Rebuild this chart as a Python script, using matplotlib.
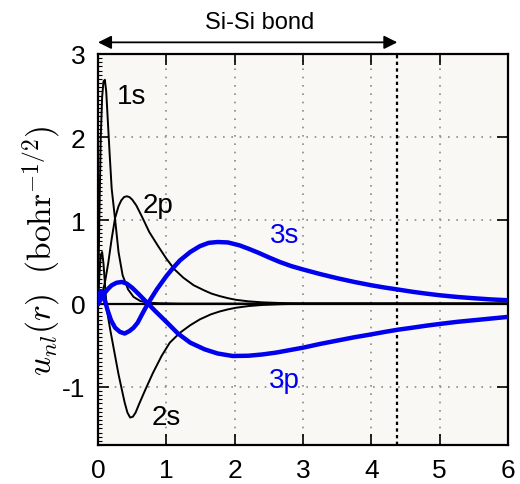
import matplotlib
matplotlib.use("Agg")
import matplotlib.pyplot as plt
from matplotlib.ticker import MultipleLocator

plt.rcParams['font.family'] = ['Liberation Sans', 'DejaVu Sans']
plt.rcParams['mathtext.fontset'] = 'cm'
plt.rcParams['axes.unicode_minus'] = False

# radial functions u_nl(r) read along r (bohr)
r_1s = [0, 0.02, 0.04, 0.06, 0.08, 0.10, 0.12, 0.14, 0.17, 0.20, 0.25, 0.30,
        0.36, 0.44, 0.52, 0.62, 0.75, 0.9, 1.2, 6.0]
u_1s = [0, 1.05, 2.0, 2.48, 2.67, 2.69, 2.55, 2.25, 1.80, 1.38, 1.01, 0.62,
        0.34, 0.17, 0.08, 0.03, 0.01, 0.004, 0, 0]

r_2s = [0, 0.02, 0.04, 0.06, 0.08, 0.10, 0.13, 0.18, 0.25, 0.30, 0.35, 0.39,
        0.43, 0.47, 0.51, 0.55, 0.60, 0.69, 0.80, 0.93, 1.05, 1.2, 1.35, 1.49,
        1.65, 1.78, 1.9, 2.02, 2.2, 2.4, 2.7, 3.0, 6.0]
u_2s = [0, 0.35, 0.58, 0.62, 0.48, 0.25, -0.08, -0.32, -0.63, -0.85, -1.04, -1.19,
        -1.31, -1.37, -1.36, -1.31, -1.21, -1.04, -0.84, -0.63, -0.47, -0.35, -0.26, -0.19,
        -0.13, -0.095, -0.07, -0.05, -0.03, -0.017, -0.007, -0.002, 0]

r_2p = [0, 0.05, 0.10, 0.15, 0.20, 0.25, 0.30, 0.34, 0.38, 0.42, 0.46, 0.50,
        0.56, 0.64, 0.75, 0.88, 1.0, 1.12, 1.25, 1.4, 1.55, 1.66, 1.78, 1.9,
        2.02, 2.2, 2.4, 2.7, 3.0, 6.0]
u_2p = [0, 0.08, 0.25, 0.49, 0.78, 1.03, 1.17, 1.24, 1.28, 1.29, 1.28, 1.25,
        1.18, 1.05, 0.86, 0.69, 0.54, 0.41, 0.31, 0.22, 0.16, 0.12, 0.09, 0.065,
        0.045, 0.027, 0.015, 0.006, 0.002, 0]

r_3s = [0, 0.02, 0.04, 0.07, 0.10, 0.14, 0.19, 0.25, 0.32, 0.39, 0.46, 0.52,
        0.58, 0.65, 0.73, 0.86, 1.0, 1.1, 1.2, 1.35, 1.49, 1.62, 1.75, 1.9,
        2.07, 2.2, 2.35, 2.5, 2.66, 2.83, 3.0, 3.25, 3.5, 3.75, 4.0, 4.2,
        4.38, 4.6, 4.8, 5.0, 5.25, 5.5, 5.75, 6.0]
u_3s = [0, 0.1, 0.15, 0.12, 0.04, -0.08, -0.2, -0.29, -0.34, -0.36, -0.33, -0.29,
        -0.23, -0.12, 0.0, 0.17, 0.33, 0.43, 0.52, 0.62, 0.69, 0.73, 0.74, 0.735,
        0.70, 0.66, 0.61, 0.555, 0.50, 0.45, 0.41, 0.355, 0.305, 0.26, 0.22, 0.192,
        0.17, 0.142, 0.12, 0.10, 0.08, 0.064, 0.05, 0.04]

r_3p = [0, 0.05, 0.10, 0.15, 0.20, 0.27, 0.35, 0.42, 0.50, 0.60, 0.73, 0.85,
        1.0, 1.17, 1.35, 1.56, 1.75, 1.97, 2.2, 2.4, 2.6, 2.8, 3.0, 3.25,
        3.5, 3.75, 4.0, 4.2, 4.38, 4.6, 4.8, 5.0, 5.25, 5.5, 5.75, 6.0]
u_3p = [0, 0.06, 0.13, 0.18, 0.22, 0.25, 0.26, 0.24, 0.19, 0.11, 0.0, -0.1,
        -0.22, -0.36, -0.47, -0.55, -0.60, -0.63, -0.627, -0.612, -0.59, -0.56, -0.53, -0.485,
        -0.445, -0.405, -0.37, -0.34, -0.315, -0.29, -0.266, -0.245, -0.22, -0.20, -0.18, -0.16]

bond_length = 4.38
x_ticks = [0, 1, 2, 3, 4, 5, 6]
y_ticks = [-1, 0, 1, 2, 3]

fig = plt.figure(figsize=(5.2, 4.85), dpi=100)
ax = fig.add_axes([0.1885, 0.0804, 0.7885, 0.8062])
ax.set_facecolor('#faf8f5')

ax.set_xlim(0, 6)
ax.set_ylim(-1.7, 3.0)
ax.set_xticks(x_ticks)
ax.set_yticks(y_ticks)
ax.yaxis.set_minor_locator(MultipleLocator(0.05))
ax.tick_params(which='major', direction='in', length=8, width=1.2,
               top=True, right=True, labelsize=19, pad=9)
ax.tick_params(which='minor', direction='in', length=3, width=0.8, left=True, right=False)
for s in ax.spines.values():
    s.set_linewidth(1.6)

ax.grid(True, which='major', color='#8a8a8a', linestyle=(0, (1, 4)), linewidth=1.2)

ax.axhline(0, color='black', linewidth=1.6, zorder=2)
ax.axvline(bond_length, color='black', linestyle=(0, (1.5, 1.5)), linewidth=1.6, zorder=2)

# core and valence orbitals
ax.plot(r_1s, u_1s, color='black', linewidth=1.4, zorder=3)
ax.plot(r_2s, u_2s, color='black', linewidth=1.4, zorder=3)
ax.plot(r_2p, u_2p, color='black', linewidth=1.4, zorder=3)
ax.plot(r_3s, u_3s, color='#0000ee', linewidth=3.2, zorder=4)
ax.plot(r_3p, u_3p, color='#0000ee', linewidth=3.2, zorder=4)

ax.text(0.49, 2.50, '1s', fontsize=20, ha='center', va='center')
ax.text(0.88, 1.19, '2p', fontsize=20, ha='center', va='center')
ax.text(1.0, -1.36, '2s', fontsize=20, ha='center', va='center')
ax.text(2.73, 0.83, '3s', fontsize=20, ha='center', va='center', color='#0000ee')
ax.text(2.73, -0.92, '3p', fontsize=20, ha='center', va='center', color='#0000ee')

# bond length arrow above the axes
ax.annotate('', xy=(0, 3.14), xytext=(bond_length, 3.14), annotation_clip=False,
            arrowprops=dict(arrowstyle='<|-|>', color='black', lw=1.3,
                            mutation_scale=20, shrinkA=0, shrinkB=0))
ax.text(2.36, 3.39, 'Si-Si bond', fontsize=17, ha='center', va='center', clip_on=False)

ax.set_ylabel(r'$u_{nl}(r)\ \ (\mathrm{bohr}^{-1/2})$', fontsize=24, labelpad=0)

fig.savefig('out.png', dpi=100, facecolor='white')
